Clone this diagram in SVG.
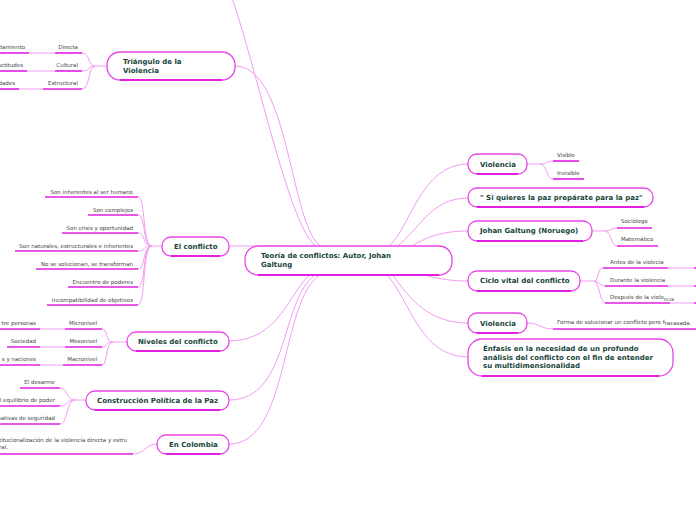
<svg xmlns="http://www.w3.org/2000/svg" width="696" height="520" viewBox="0 0 696 520">
<style>
.n rect{fill:#fff;stroke:#e845e8;stroke-width:1.3}
.n path{stroke:#e21fe2;stroke-width:2;fill:none}
.t{font-family:"DejaVu Sans",Verdana,sans-serif;font-weight:bold;font-size:7px;fill:#17453a}
.l{font-family:"DejaVu Sans",Verdana,sans-serif;font-size:5.5px;fill:#444}
.c path{fill:none;stroke:#f29cf3;stroke-width:1}
.u line{stroke:#e21fe2;stroke-width:1.6}
</style>
<rect width="696" height="520" fill="#fff"/>
<g class="c" id="connectors">
<path d="M232,-2 C260,80 290,230 317,247"/>
<path d="M235,66 C290,66 290,230 322,247"/>
<path d="M229,246 C260,246 290,246 320,247"/>
<path d="M229,341 C280,341 290,290 310,275"/>
<path d="M229,400 C290,400 280,300 315,275"/>
<path d="M229,444 C290,444 280,300 320,275"/>
<path d="M468,164 C420,164 410,230 388,247"/>
<path d="M468,198 C430,198 420,230 396,247"/>
<path d="M468,231 C440,231 425,238 410,247"/>
<path d="M468,281 C440,281 430,275 420,275"/>
<path d="M468,323 C430,323 410,300 393,275"/>
<path d="M468,357 C420,357 410,300 387,275"/>
<path d="M107,66 H95 M95,66 C88,66 90,53 82,53 M95,66 C88,66 90,71 82,71 M95,66 C88,66 90,89 82,89"/>
<path d="M29,53 H55 M27,71 H55 M19,89 H43"/>
<path d="M162,246 H152 M152,246 C142,246 146,197 138,197 M152,246 C142,246 146,215 138,215 M152,246 C142,246 146,233 138,233 M152,246 C142,246 146,251 138,251 M152,246 C142,246 146,269 138,269 M152,246 C142,246 146,287 138,287 M152,246 C142,246 146,305 138,305"/>
<path d="M127,342 H113 M113,342 C105,342 108,329 102,329 M113,342 C105,342 108,347 102,347 M113,342 C105,342 108,365 102,365"/>
<path d="M40,329 H65 M40,347 H65 M40,365 H63"/>
<path d="M86,400 H75 M75,400 C66,400 68,388 60,388 M75,400 C66,400 68,406 60,406 M75,400 C66,400 68,424 60,424"/>
<path d="M157,444 C145,444 145,454 133,454"/>
<path d="M527,164 H540 M540,164 C547,164 546,161 553,161 M540,164 C547,164 546,179 553,179"/>
<path d="M592,231 H605 M605,231 C611,231 611,228 617,228 M605,231 C611,231 611,246 617,246"/>
<path d="M580,281 H594 M594,281 C599,281 597,268 603,268 M594,281 C599,281 600,286 605,286 M594,281 C599,281 600,303 605,303"/>
<path d="M668,268 H694 M668,286 H694 M670,303 H694"/>
<path d="M527,323 C540,323 540,329 553,329"/>
</g>
<g class="u" id="underlines">
<line x1="0" y1="53" x2="29" y2="53"/><line x1="55" y1="53" x2="82" y2="53"/>
<line x1="0" y1="71" x2="27" y2="71"/><line x1="55" y1="71" x2="82" y2="71"/>
<line x1="0" y1="89" x2="19" y2="89"/><line x1="43" y1="89" x2="82" y2="89"/>
<line x1="45" y1="197" x2="138" y2="197"/>
<line x1="88" y1="215" x2="138" y2="215"/>
<line x1="62" y1="233" x2="138" y2="233"/>
<line x1="15" y1="251" x2="138" y2="251"/>
<line x1="36" y1="269" x2="138" y2="269"/>
<line x1="68" y1="287" x2="138" y2="287"/>
<line x1="47" y1="305" x2="138" y2="305"/>
<line x1="0" y1="329" x2="40" y2="329"/><line x1="65" y1="329" x2="102" y2="329"/>
<line x1="7" y1="347" x2="40" y2="347"/><line x1="65" y1="347" x2="102" y2="347"/>
<line x1="0" y1="365" x2="40" y2="365"/><line x1="63" y1="365" x2="102" y2="365"/>
<line x1="20" y1="388" x2="60" y2="388"/>
<line x1="0" y1="406" x2="60" y2="406"/>
<line x1="0" y1="424" x2="60" y2="424"/>
<line x1="0" y1="454" x2="133" y2="454"/>
<line x1="553" y1="161" x2="579" y2="161"/>
<line x1="553" y1="179" x2="584" y2="179"/>
<line x1="617" y1="228" x2="652" y2="228"/>
<line x1="617" y1="246" x2="658" y2="246"/>
<line x1="603" y1="268" x2="668" y2="268"/><line x1="694" y1="268" x2="696" y2="268"/>
<line x1="605" y1="286" x2="668" y2="286"/><line x1="694" y1="286" x2="696" y2="286"/>
<line x1="605" y1="303" x2="670" y2="303"/><line x1="694" y1="303" x2="696" y2="303"/>
<line x1="553" y1="329" x2="696" y2="329"/>
</g>
<g id="leaves">
<text class="l" x="25" y="49" text-anchor="end">tamiento</text>
<text class="l" x="78" y="49" text-anchor="end">Directa</text>
<text class="l" x="23" y="67" text-anchor="end">actitudes</text>
<text class="l" x="78" y="67" text-anchor="end">Cultural</text>
<text class="l" x="15" y="85" text-anchor="end">dades</text>
<text class="l" x="78" y="85" text-anchor="end">Estructural</text>
<text class="l" x="133" y="194" text-anchor="end">Son inherentes al ser humano</text>
<text class="l" x="133" y="212" text-anchor="end">Son complejos</text>
<text class="l" x="133" y="230" text-anchor="end">Son crisis y oportunidad</text>
<text class="l" x="133" y="248" text-anchor="end">Son naturales, estructurales e inherentes</text>
<text class="l" x="133" y="266" text-anchor="end">No se solucionan, se transforman</text>
<text class="l" x="133" y="284" text-anchor="end">Encuentro de poderes</text>
<text class="l" x="133" y="302" text-anchor="end">Incompatibilidad de objetivos</text>
<text class="l" x="36" y="325" text-anchor="end">tre personas</text>
<text class="l" x="97" y="325" text-anchor="end">Micronivel</text>
<text class="l" x="36" y="343" text-anchor="end">Sociedad</text>
<text class="l" x="97" y="343" text-anchor="end">Mesonivel</text>
<text class="l" x="36" y="361" text-anchor="end">s y naciones</text>
<text class="l" x="97" y="361" text-anchor="end">Macronivel</text>
<text class="l" x="55" y="384" text-anchor="end">El desarme</text>
<text class="l" x="55" y="402" text-anchor="end">l equilibrio de poder</text>
<text class="l" x="55" y="420" text-anchor="end">nativas de seguridad</text>
<text class="l" x="-1" y="442">titucionalización de la violencia directa y estru</text>
<text class="l" x="-1" y="449">ral.</text>
<text class="l" x="557" y="157">Visible</text>
<text class="l" x="557" y="175">Invisible</text>
<text class="l" x="621" y="223">Sociólogo</text>
<text class="l" x="621" y="241">Matemático</text>
<text class="l" x="610" y="264">Antes de la violecia</text>
<text class="l" x="610" y="282">Durante la violencia</text>
<text class="l" x="610" y="299">Después de la viole<tspan font-size="5px" dy="1.5">ncia</tspan></text>
<text class="l" x="557" y="324">Forma de solucionar un conflicto pero f<tspan dy="1.2">racasada.</tspan></text>
</g>
<g class="n" id="center">
<rect x="245" y="246" width="207" height="29" rx="13"/><path d="M258,275 H439"/>
<text class="t" x="261" y="258">Teoría de conflictos: Autor, Johan</text>
<text class="t" x="261" y="267">Galtung</text>
</g>
<g class="n" id="triangulo">
<rect x="107" y="52" width="128" height="28" rx="13"/><path d="M120,80 H222"/>
<text class="t" x="123" y="64">Triángulo de la</text>
<text class="t" x="123" y="73">Violencia</text>
</g>
<g class="n" id="elconflicto">
<rect x="162" y="237" width="67" height="19" rx="9"/><path d="M171,256 H220"/>
<text class="t" x="174" y="249">El conflicto</text>
</g>
<g class="n" id="niveles">
<rect x="127" y="332" width="102" height="19" rx="9"/><path d="M136,351 H220"/>
<text class="t" x="138" y="344">Niveles del conflicto</text>
</g>
<g class="n" id="construccion">
<rect x="86" y="391" width="143" height="19" rx="9"/><path d="M95,410 H220"/>
<text class="t" x="97" y="403">Construcción Política de la Paz</text>
</g>
<g class="n" id="colombia">
<rect x="157" y="435" width="72" height="19" rx="9"/><path d="M166,454 H220"/>
<text class="t" x="169" y="447">En Colombia</text>
</g>
<g class="n" id="violencia1">
<rect x="468" y="154" width="59" height="20" rx="9"/><path d="M477,174 H518"/>
<text class="t" x="480" y="167">Violencia</text>
</g>
<g class="n" id="siquieres">
<rect x="468" y="188" width="185" height="19" rx="9"/><path d="M477,207 H644"/>
<text class="t" x="480" y="200">" Si quieres la paz prepárate para la paz"</text>
</g>
<g class="n" id="johan">
<rect x="468" y="221" width="124" height="20" rx="9"/><path d="M477,241 H583"/>
<text class="t" x="480" y="233">Johan Galtung (Noruego)</text>
</g>
<g class="n" id="ciclo">
<rect x="468" y="271" width="112" height="20" rx="9"/><path d="M477,291 H571"/>
<text class="t" x="480" y="283">Ciclo vital del conflicto</text>
</g>
<g class="n" id="violencia2">
<rect x="468" y="313" width="59" height="20" rx="9"/><path d="M477,333 H518"/>
<text class="t" x="480" y="326">Violencia</text>
</g>
<g class="n" id="enfasis">
<rect x="468" y="339" width="205" height="37" rx="14"/><path d="M482,376 H659"/>
<text class="t" x="483" y="351">Énfasis en la necesidad de un profundo</text>
<text class="t" x="483" y="359.5">análisis del conflicto con el fin de entender</text>
<text class="t" x="483" y="368">su multidimensionalidad</text>
</g>
</svg>
